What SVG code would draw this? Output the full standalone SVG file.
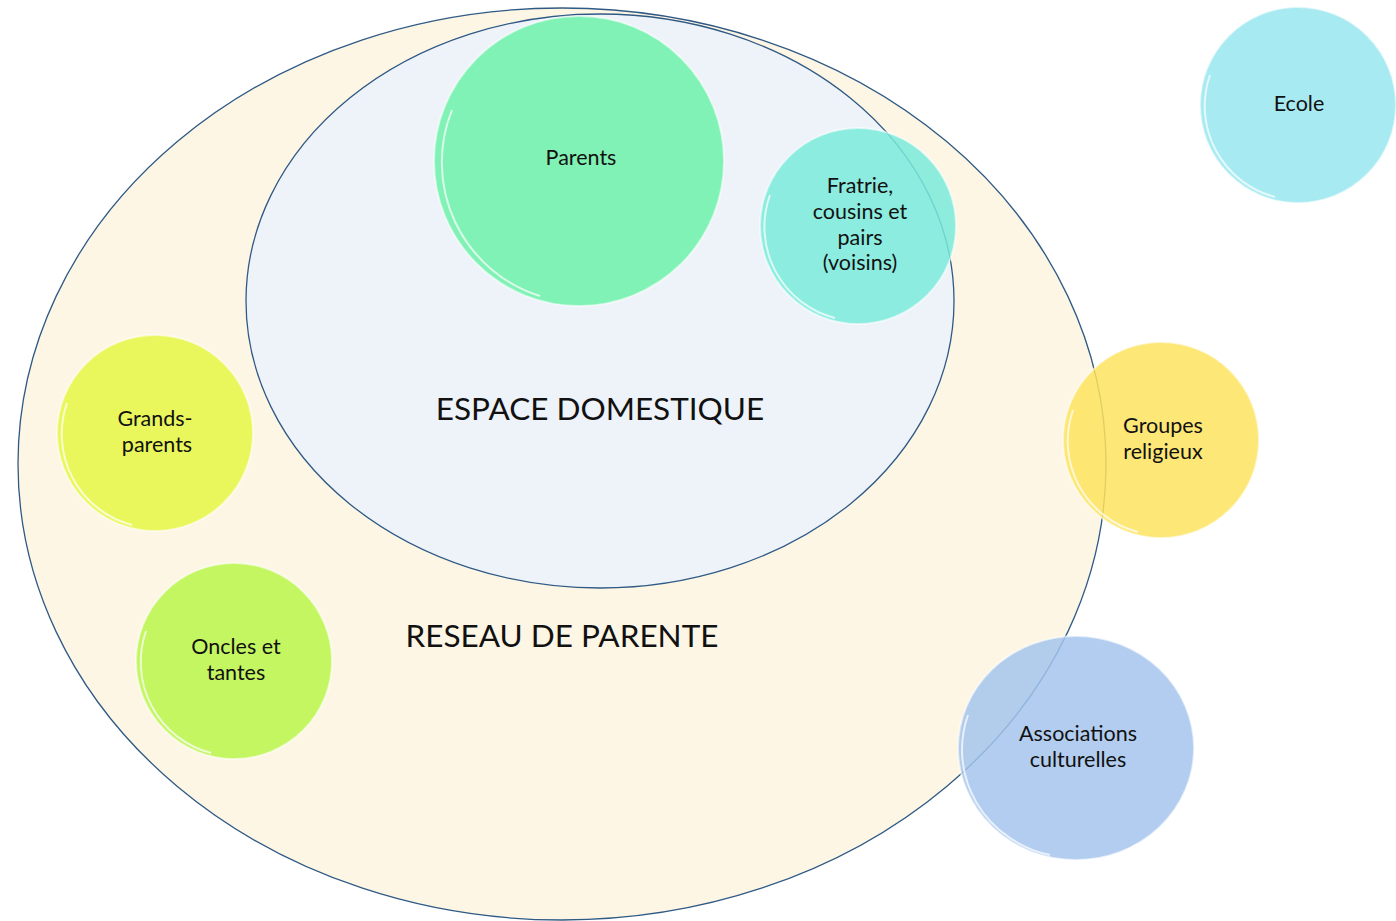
<svg xmlns="http://www.w3.org/2000/svg" width="1396" height="921" viewBox="0 0 1396 921">
<style>
.zone{stroke:#2F5A85;stroke-width:1.3}
.bub{stroke:#ffffff;stroke-opacity:0.55;stroke-width:2}
.hl{fill:none;stroke:#ffffff;stroke-opacity:0.7;stroke-width:2}
.lbl{font-family:Lato,"Open Sans","Liberation Sans",sans-serif;font-size:21.5px;fill:#111;text-anchor:middle}
.big{font-family:Lato,"Open Sans","Liberation Sans",sans-serif;font-size:31.5px;fill:#111;text-anchor:middle}
</style>
<rect width="1396" height="921" fill="#ffffff"/>
<g id="reseau">
<ellipse class="zone" cx="562" cy="464" rx="544" ry="456" fill="#FEF6E5"/>
</g>
<g id="espace">
<ellipse class="zone" cx="600" cy="301" rx="354" ry="287" fill="#EEF3FA"/>
</g>
<g id="parents">
<circle class="bub" cx="579" cy="161" r="145" fill="#80F2B5"/>
<path class="hl" d="M452,110 A140,140 0 0 0 540,296"/>
<text class="lbl" x="581" y="165">Parents</text>
</g>
<g id="fratrie">
<circle class="bub" cx="858" cy="226" r="98" fill="#79EAD9" fill-opacity="0.85"/>
<path class="hl" d="M770,195 A94,94 0 0 0 835,318"/>
<text class="lbl" x="860" y="193">Fratrie,</text>
<text class="lbl" x="860" y="219">cousins et</text>
<text class="lbl" x="860" y="245">pairs</text>
<text class="lbl" x="860" y="270">(voisins)</text>
</g>
<g id="ecole">
<circle class="bub" cx="1298" cy="105" r="98" fill="#A7EAF1"/>
<path class="hl" d="M1210,75 A94,94 0 0 0 1275,197"/>
<text class="lbl" x="1299" y="111">Ecole</text>
</g>
<g id="grands-parents">
<circle class="bub" cx="155" cy="433" r="98" fill="#E9F75C"/>
<path class="hl" d="M67,403 A94,94 0 0 0 132,525"/>
<text class="lbl" x="155" y="426">Grands-</text>
<text class="lbl" x="157" y="452">parents</text>
</g>
<g id="oncles">
<circle class="bub" cx="234" cy="661" r="98" fill="#C3F661"/>
<path class="hl" d="M146,631 A94,94 0 0 0 211,753"/>
<text class="lbl" x="236" y="654">Oncles et</text>
<text class="lbl" x="236" y="680">tantes</text>
</g>
<g id="groupes">
<circle class="bub" cx="1161" cy="440" r="98" fill="#FDE35E" fill-opacity="0.85"/>
<path class="hl" d="M1073,410 A94,94 0 0 0 1138,532"/>
<text class="lbl" x="1163" y="433">Groupes</text>
<text class="lbl" x="1163" y="459">religieux</text>
</g>
<g id="associations">
<ellipse class="bub" cx="1076" cy="748" rx="118" ry="112" fill="#A4C4EC" fill-opacity="0.85"/>
<path class="hl" d="M968,715 A113,108 0 0 0 1050,855"/>
<text class="lbl" x="1078" y="741">Associations</text>
<text class="lbl" x="1078" y="767">culturelles</text>
</g>
<g id="labels">
<text class="big" x="600" y="420">ESPACE DOMESTIQUE</text>
<text class="big" x="562" y="647">RESEAU DE PARENTE</text>
</g>
<g id="connectors"></g>
</svg>
